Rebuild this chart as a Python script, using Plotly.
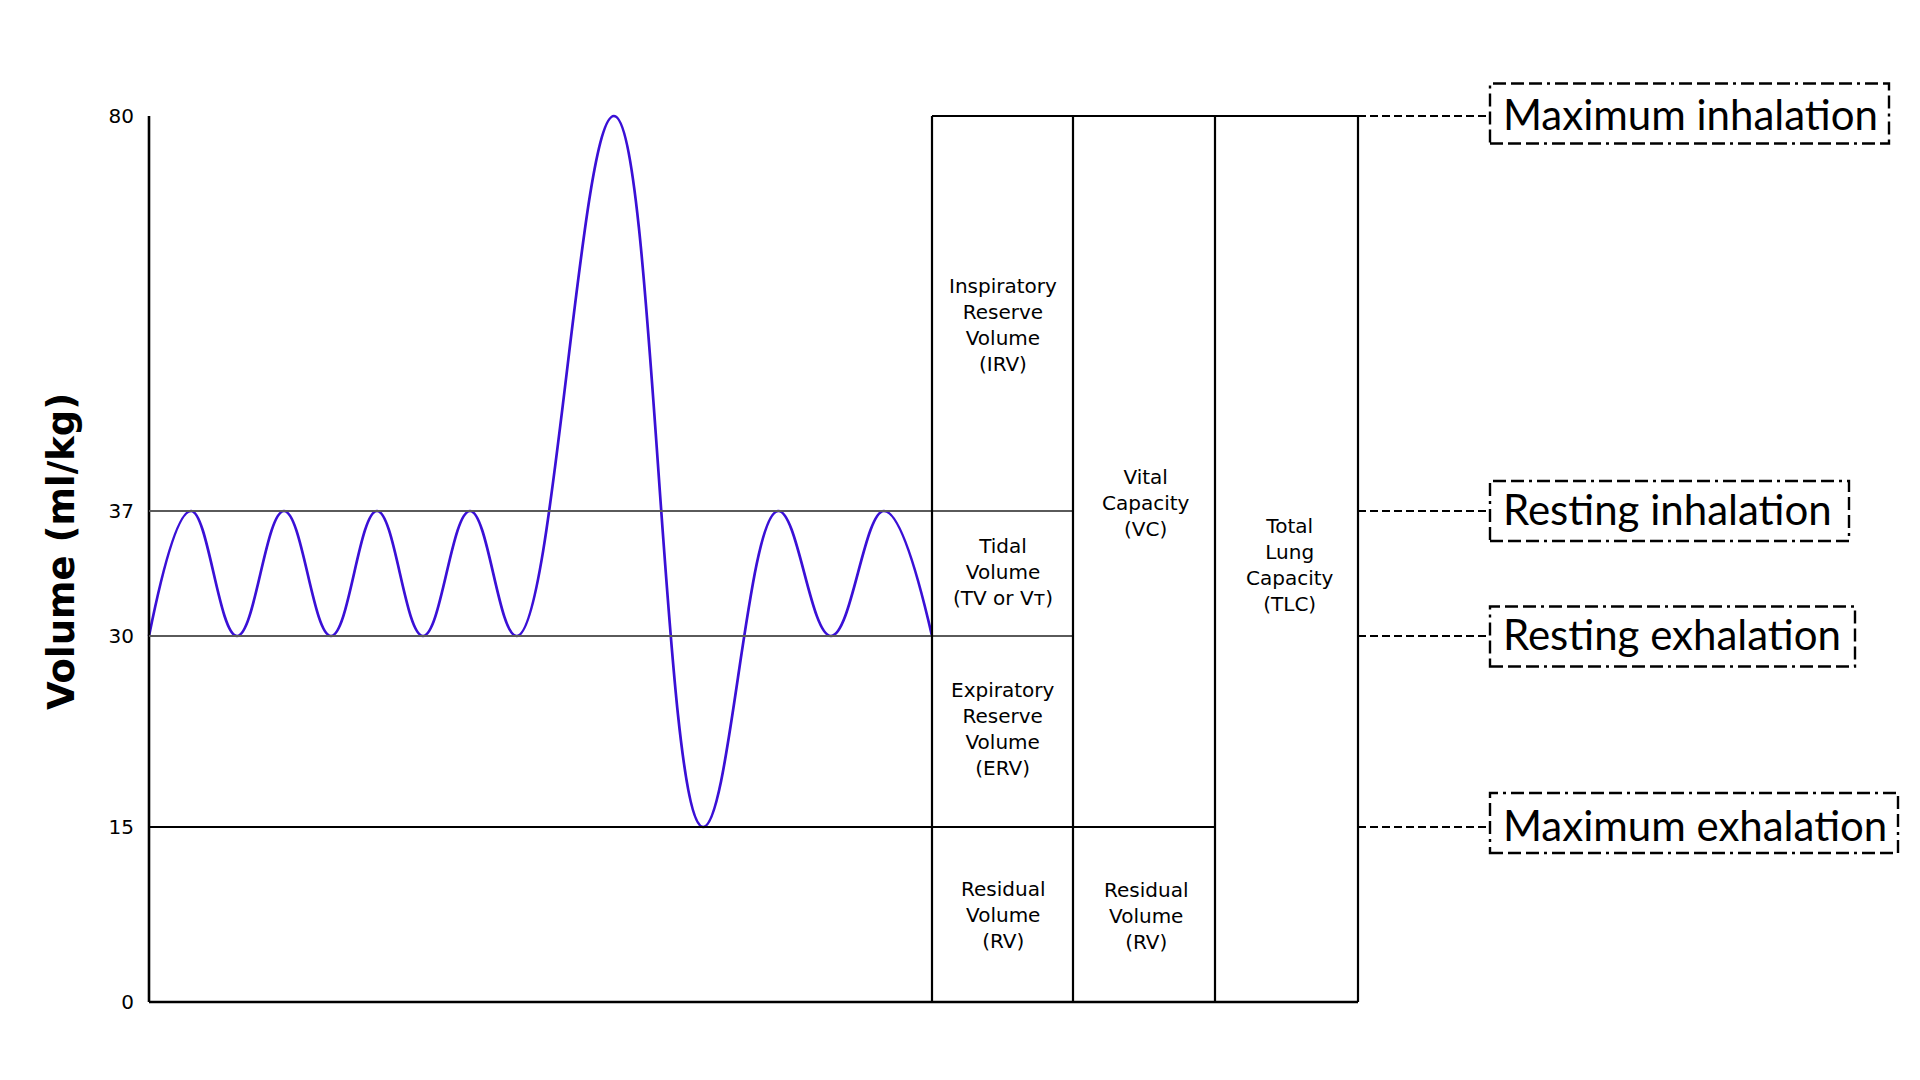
import numpy as np
import plotly.graph_objects as go

# ---------------- data ----------------
# breathing trace extrema: time (arbitrary units) and lung volume (ml/kg)
trace_time = [0.00, 0.42, 0.88, 1.35, 1.82, 2.28, 2.74, 3.21, 3.68, 4.65,
              5.54, 6.29, 6.82, 7.35, 7.83]
trace_volume = [30, 37, 30, 37, 30, 37, 30, 37, 30, 80,
                15, 37, 30, 37, 30]

tick_values = [0, 15, 30, 37, 80]
tick_labels = ["0", "15", "30", "37", "80"]

# volume compartments: column index, volume from, volume to, label
seg_column = [0, 0, 0, 0, 1, 1, 2]
seg_from = [37, 30, 15, 0, 15, 0, 0]
seg_to = [80, 37, 30, 15, 80, 15, 80]
seg_label = ["Inspiratory<br>Reserve<br>Volume<br>(IRV)",
             "Tidal<br>Volume<br>(TV or Vᴛ)",
             "Expiratory<br>Reserve<br>Volume<br>(ERV)",
             "Residual<br>Volume<br>(RV)",
             "Vital<br>Capacity<br>(VC)",
             "Residual<br>Volume<br>(RV)",
             "Total<br>Lung<br>Capacity<br>(TLC)"]

level_names = ["Maximum inhalation", "Resting inhalation",
               "Resting exhalation", "Maximum exhalation"]
level_values = [80, 37, 30, 15]

# ---------------- layout / style ----------------
# schematic (piecewise) vertical scale: volume -> display position (px)
scale_levels = [0, 15, 30, 37, 80]
scale_pos = [0, 175, 366, 491, 886]


def ypos(v):
    return np.interp(v, scale_levels, scale_pos)


column_edges = [7.83, 9.24, 10.66, 12.09]
# label anchor (volume units) and small x nudges for the compartment labels
seg_label_at = [57.3, 33.6, 22.7, 7.5, 37.9, 7.4, 34.0]
seg_label_dx = [0.0, 0.0, 0.0, 0.0, 0.02, 0.02, 0.035]

X0, X1 = -1.49, 17.71      # 1 x unit = 100 px
Y0, Y1 = -78, 1002

WAVE = "#3a10d6"
leader_x0, leader_x1 = 12.09, 13.41
label_x = 13.52
box_right = [17.40, 17.00, 17.06, 17.49]
box_half = 30
box_offsets = [2.5, 0, -0.5, 4]

fig = go.Figure()

fig.add_trace(go.Scatter(
    x=trace_time, y=ypos(trace_volume), mode="lines",
    line=dict(color=WAVE, width=2.7, shape="spline", smoothing=1.15),
    hoverinfo="skip", showlegend=False, cliponaxis=False,
))

shapes = []
blk = dict(color="black", width=2.2)
gry = dict(color="#5a5a5a", width=2)

# y axis line & bottom line
shapes.append(dict(type="line", xref="x", yref="y", x0=0, x1=0,
                   y0=ypos(0), y1=ypos(80), line=dict(color="black", width=2.6)))
shapes.append(dict(type="line", xref="x", yref="y", x0=0, x1=column_edges[-1],
                   y0=ypos(0), y1=ypos(0), line=dict(color="black", width=2.4)))
# horizontal reference lines
shapes.append(dict(type="line", xref="x", yref="y", x0=0, x1=column_edges[1],
                   y0=ypos(37), y1=ypos(37), line=gry))
shapes.append(dict(type="line", xref="x", yref="y", x0=0, x1=column_edges[1],
                   y0=ypos(30), y1=ypos(30), line=gry))
shapes.append(dict(type="line", xref="x", yref="y", x0=0, x1=column_edges[2],
                   y0=ypos(15), y1=ypos(15), line=blk))
# column boxes
shapes.append(dict(type="line", xref="x", yref="y", x0=column_edges[0], x1=column_edges[-1],
                   y0=ypos(80), y1=ypos(80), line=blk))
for e in column_edges:
    shapes.append(dict(type="line", xref="x", yref="y", x0=e, x1=e,
                       y0=ypos(0), y1=ypos(80), line=blk))

annotations = []
for col, lab, lv, dx in zip(seg_column, seg_label, seg_label_at, seg_label_dx):
    xc = (column_edges[col] + column_edges[col + 1]) / 2 + dx
    annotations.append(dict(x=xc, y=ypos(lv), xref="x", yref="y", text=lab,
                            showarrow=False, xanchor="center", yanchor="middle",
                            align="center",
                            font=dict(family="DejaVu Sans", size=20, color="black")))

# leaders and labelled boxes
for name, v, br, off in zip(level_names, level_values, box_right, box_offsets):
    yc = ypos(v)
    shapes.append(dict(type="line", xref="x", yref="y", x0=leader_x0, x1=leader_x1,
                       y0=yc, y1=yc, line=dict(color="black", width=2.2, dash="8px,4px")))
    shapes.append(dict(type="rect", xref="x", yref="y", x0=leader_x1, x1=br,
                       y0=yc + off - box_half, y1=yc + off + box_half,
                       line=dict(color="black", width=2.4,
                                 dash="13px,5px,13px,5px,13px,5px,3px,5px")))
    annotations.append(dict(x=label_x, y=yc + 2, xref="x", yref="y", text=name,
                            showarrow=False, xanchor="left", yanchor="middle",
                            font=dict(family="Lato", size=42, color="black")))

# y title
annotations.append(dict(x=-0.88, y=450, xref="x", yref="y", text="<b>Volume (ml/kg)</b>",
                        textangle=-90, showarrow=False, xanchor="center", yanchor="middle",
                        font=dict(family="DejaVu Sans", size=37, color="black")))

fig.update_layout(
    width=1920, height=1080,
    margin=dict(l=0, r=0, t=0, b=0, pad=0),
    paper_bgcolor="white", plot_bgcolor="white",
    shapes=shapes, annotations=annotations,
    xaxis=dict(range=[X0, X1], visible=False, fixedrange=True),
    yaxis=dict(range=[Y0, Y1], anchor="free", position=1.49 / 19.2,
               tickvals=list(ypos(tick_values)), ticktext=tick_labels,
               showgrid=False, zeroline=False, showline=False, ticks="",
               ticklabelstandoff=15,
               tickfont=dict(family="DejaVu Sans", size=20, color="black"),
               fixedrange=True),
    showlegend=False,
)

fig.write_html("out.html", config={"displayModeBar": False},
               post_script="document.body.style.margin='0';")
